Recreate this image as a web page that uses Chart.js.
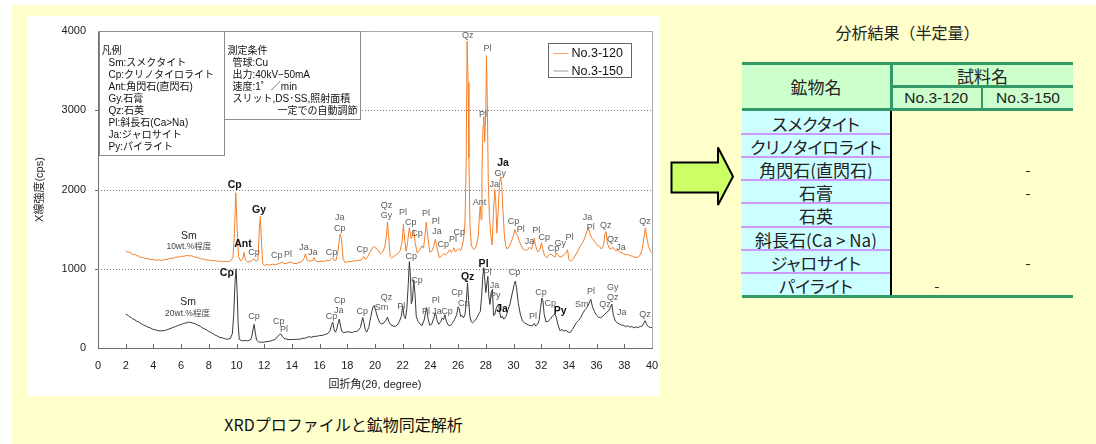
<!DOCTYPE html>
<html lang="ja">
<head>
<meta charset="utf-8">
<title>XRDプロファイルと鉱物同定解析</title>
<script src="https://cdn.jsdelivr.net/npm/chart.js@4.4.1/dist/chart.umd.min.js"></script>
<style>
  html, body { margin: 0; padding: 0; background: #fff; }
  body { width: 1096px; height: 444px; position: relative; overflow: hidden;
         font-family: "Noto Sans CJK JP", "Liberation Sans", sans-serif; color: #222; }
  #page { position: absolute; left: 12px; top: 5px; width: 1084px; height: 439px; background: #FFFFCC; }
  #panel { position: absolute; left: 27px; top: 16px; width: 633px; height: 380px; background: #fff; }
  #panel canvas { display: block; }
  #caption { position: absolute; left: 27px; top: 413px; width: 633px; text-align: center;
             font-size: 16px; line-height: 22px; color: #111; }
  #arrow { position: absolute; left: 660px; top: 140px; }
  .abs { position: absolute; }
  .cell { position: absolute; display: flex; align-items: center; justify-content: center;
          white-space: nowrap; font-feature-settings: "palt"; }
  #resTitle { position: absolute; left: 820px; width: 175px; top: 20px; text-align: center;
              font-size: 16px; line-height: 24px; color: #222; }
</style>
</head>
<body>
<div id="page"></div>
<div id="panel"><canvas id="xrd" width="633" height="380"></canvas></div>
<div id="caption">XRDプロファイルと鉱物同定解析</div>
<svg id="arrow" width="80" height="75" viewBox="660 140 80 75">
  <polygon points="671.5,162.5 718,162.5 718,147.5 733,176.5 718,205 718,192.5 671.5,192.5"
           fill="#CCFF66" stroke="#000" stroke-width="2" stroke-linejoin="miter"/>
</svg>
<div id="resTitle">分析結果（半定量）</div>
<div id="table"></div>

<script>
// ---- XRD profile, sample No.3-120 (2θ in degrees, intensity in cps) ----
const theta120 = [
  2.0,2.1,2.2,2.3,2.4,2.5,2.6,2.7,2.8,2.9,3.0,3.2,3.4,3.6,3.8,4.0,4.2,4.4,4.6,4.8,
  5.0,5.2,5.4,5.6,5.8,6.0,6.2,6.4,6.6,6.8,7.0,7.2,7.4,7.6,7.8,8.0,8.2,8.4,8.6,8.8,
  9.0,9.2,9.4,9.6,9.75,9.85,9.95,10.05,10.15,10.3,10.45,10.55,10.65,10.8,11.0,11.15,11.27,11.4,11.55,11.65,
  11.72,11.8,11.9,12.0,12.2,12.4,12.6,12.8,13.0,13.2,13.3,13.5,13.7,13.9,14.1,14.3,14.5,14.7,14.85,14.98,
  15.1,15.3,15.5,15.6,15.7,15.9,16.1,16.3,16.5,16.7,16.85,16.95,17.05,17.2,17.35,17.48,17.58,17.7,17.85,18.0,
  18.2,18.4,18.6,18.8,19.0,19.1,19.2,19.3,19.45,19.6,19.8,19.9,20.0,20.2,20.4,20.55,20.7,20.82,20.9,20.98,
  21.1,21.2,21.35,21.5,21.65,21.8,21.95,22.05,22.15,22.25,22.35,22.48,22.6,22.72,22.8,22.9,23.05,23.2,23.4,23.5,
  23.6,23.7,23.8,23.95,24.1,24.25,24.36,24.5,24.65,24.8,24.95,25.1,25.25,25.4,25.5,25.6,25.7,25.8,25.95,26.1,
  26.2,26.3,26.4,26.5,26.58,26.65,26.72,26.78,26.86,26.95,27.05,27.15,27.3,27.45,27.55,27.6,27.66,27.72,27.8,27.86,
  27.92,28.0,28.05,28.1,28.18,28.25,28.35,28.45,28.55,28.65,28.72,28.8,28.9,29.0,29.08,29.15,29.25,29.35,29.45,29.55,
  29.7,29.85,30.0,30.1,30.18,30.28,30.4,30.55,30.7,30.85,31.0,31.15,31.3,31.42,31.5,31.6,31.75,31.9,32.02,32.12,
  32.25,32.4,32.55,32.7,32.85,33.0,33.1,33.2,33.35,33.5,33.65,33.8,33.9,34.0,34.1,34.25,34.4,34.6,34.8,35.0,
  35.15,35.3,35.4,35.5,35.6,35.75,35.9,36.05,36.2,36.35,36.5,36.6,36.68,36.78,36.9,37.05,37.2,37.35,37.5,37.65,
  37.8,37.95,38.1,38.25,38.4,38.55,38.7,38.85,39.0,39.15,39.3,39.42,39.52,39.62,39.75,39.9,40.0
];
const cps120 = [
  1230,1212,1205,1214,1190,1188,1172,1182,1163,1162,1148,1142,1132,1128,1116,1118,1106,1114,1104,1117,
  1118,1132,1131,1147,1146,1158,1157,1168,1163,1162,1146,1143,1126,1122,1111,1110,1100,1103,1096,1097,
  1090,1093,1089,1102,1150,1450,1960,1500,1150,1098,1122,1205,1108,1086,1092,1112,1125,1093,1112,1500,
  1660,1350,1060,1043,1052,1046,1057,1050,1062,1073,1082,1063,1072,1086,1068,1066,1076,1088,1120,1190,
  1108,1096,1104,1140,1098,1091,1097,1093,1102,1104,1122,1140,1103,1112,1250,1440,1380,1118,1078,1087,
  1088,1097,1098,1107,1108,1132,1155,1118,1142,1200,1258,1282,1268,1242,1188,1212,1270,1400,1590,1420,
  1150,1133,1152,1173,1192,1218,1330,1560,1350,1220,1330,1520,1380,1420,1490,1330,1198,1232,1288,1262,
  1400,1590,1420,1208,1222,1290,1370,1248,1138,1162,1188,1176,1202,1240,1208,1232,1265,1213,1242,1248,
  1232,1290,1380,1600,2300,3870,3350,2400,1550,1300,1258,1242,1278,1400,1700,1790,1620,2200,2800,2920,
  2600,3000,3690,3200,2100,1700,1450,1300,1700,2000,1850,1450,1750,2100,2160,2050,1700,1400,1280,1248,
  1282,1348,1422,1495,1450,1430,1358,1292,1248,1232,1238,1272,1248,1322,1385,1288,1212,1238,1330,1248,
  1162,1138,1172,1188,1162,1148,1200,1178,1146,1156,1178,1202,1240,1118,1095,1112,1148,1212,1278,1332,
  1390,1470,1515,1460,1402,1368,1332,1298,1282,1248,1290,1440,1470,1318,1262,1248,1272,1228,1232,1214,
  1202,1188,1176,1182,1164,1162,1148,1142,1150,1172,1250,1400,1515,1400,1280,1218,1200
];

// ---- XRD profile, sample No.3-150 ----
const theta150 = [
  2.0,2.1,2.2,2.3,2.4,2.5,2.6,2.8,3.0,3.2,3.4,3.6,3.8,4.0,4.2,4.4,4.6,4.8,5.0,5.2,
  5.4,5.6,5.8,6.0,6.2,6.4,6.6,6.8,7.0,7.2,7.4,7.6,7.8,8.0,8.2,8.4,8.6,8.8,9.0,9.2,
  9.4,9.55,9.7,9.8,9.9,9.97,10.05,10.12,10.2,10.35,10.5,10.65,10.8,11.0,11.1,11.2,11.27,11.35,11.45,11.6,
  11.8,12.0,12.2,12.4,12.6,12.8,12.95,13.1,13.2,13.3,13.45,13.6,13.8,14.0,14.2,14.4,14.6,14.8,15.0,15.2,
  15.4,15.6,15.8,16.0,16.2,16.4,16.6,16.75,16.85,16.95,17.05,17.15,17.25,17.35,17.42,17.5,17.6,17.75,17.9,18.05,
  18.2,18.35,18.5,18.65,18.8,18.95,19.05,19.12,19.2,19.3,19.4,19.55,19.7,19.85,19.95,20.05,20.2,20.35,20.5,20.65,
  20.8,20.9,21.0,21.15,21.3,21.45,21.6,21.75,21.9,22.0,22.1,22.2,22.3,22.4,22.48,22.56,22.62,22.7,22.8,22.88,
  22.98,23.1,23.25,23.4,23.55,23.65,23.72,23.82,23.95,24.1,24.25,24.36,24.48,24.6,24.75,24.85,24.95,25.05,25.15,25.3,
  25.45,25.6,25.75,25.9,26.0,26.08,26.18,26.28,26.38,26.5,26.6,26.68,26.76,26.85,26.95,27.05,27.2,27.35,27.5,27.6,
  27.7,27.78,27.85,27.93,28.0,28.08,28.15,28.22,28.3,28.4,28.48,28.56,28.65,28.75,28.85,28.93,29.0,29.1,29.2,29.3,
  29.4,29.5,29.6,29.75,29.9,30.05,30.13,30.22,30.35,30.5,30.65,30.8,30.95,31.1,31.25,31.4,31.5,31.6,31.75,31.85,
  31.95,32.05,32.12,32.22,32.35,32.5,32.65,32.8,32.9,33.0,33.1,33.2,33.35,33.5,33.65,33.8,33.95,34.1,34.25,34.4,
  34.55,34.7,34.85,35.0,35.15,35.3,35.45,35.58,35.7,35.85,36.0,36.15,36.3,36.45,36.6,36.75,36.9,37.0,37.1,37.2,
  37.35,37.5,37.65,37.8,37.95,38.1,38.25,38.4,38.55,38.7,38.85,39.0,39.15,39.3,39.42,39.5,39.6,39.75,39.9,40.0
];
const cps150 = [
  430,418,407,392,382,368,362,338,322,298,282,263,252,233,227,216,217,220,232,243,
  260,270,287,296,312,318,327,316,307,288,272,248,232,208,192,168,152,133,127,113,
  112,120,180,420,850,1000,700,300,110,94,91,96,90,102,140,240,300,200,100,77,
  73,74,82,84,97,108,140,170,178,150,118,113,106,107,109,110,113,122,126,142,
  136,147,148,157,158,172,183,220,280,325,230,200,250,320,365,290,210,193,202,203,
  202,193,207,208,222,260,340,385,320,230,200,260,400,520,535,470,380,318,302,318,
  352,390,330,292,278,272,288,332,400,530,400,370,500,800,1090,900,560,600,860,700,
  400,338,302,283,352,450,510,380,288,302,380,450,350,298,332,380,360,420,340,288,
  282,318,362,420,520,500,400,410,380,420,600,820,600,400,330,318,342,378,432,460,
  650,900,1015,850,700,820,905,650,550,700,740,410,420,500,540,555,450,378,402,365,
  382,418,482,558,682,800,845,760,560,420,342,318,302,288,282,283,310,278,302,350,
  500,630,600,420,330,338,362,398,420,425,380,300,220,232,213,222,200,196,232,278,
  322,348,382,438,482,508,562,615,520,458,412,388,382,402,428,452,478,510,555,420,
  340,318,302,288,287,268,282,263,272,253,267,258,272,278,320,345,300,268,257,260
];

// ---- axis ticks ----
const xTickValues = [0,2,4,6,8,10,12,14,16,18,20,22,24,26,28,30,32,34,36,38,40];
const yTickValues = [0,1000,2000,3000,4000];
const yGridValues = [1000,2000,3000];

// ---- peak identification tags: [label, 2θ, cps] ----
const tagsPlain = [
  // No.3-120
  ['Cp',11.27,1208],['Cp',12.90,1166],['Pl',13.72,1175],['Ja',14.87,1263],['Ja',15.50,1200],
  ['Cp',16.86,1208],['Ja',17.46,1647],['Cp',17.46,1509],['Cp',19.08,1241],['Qz',20.83,1793],
  ['Gy',20.83,1668],['Pl',22.03,1709],['Cp',22.58,1584],['Cp',23.04,1446],['Pl',23.69,1697],
  ['Pl',24.38,1596],['Ja',24.48,1471],['Cp',24.92,1312],['Pl',25.64,1375],['Cp',26.09,1459],
  ['Qz',26.69,3938],['Pl',28.13,3778],['Pl',27.80,2951],['Gy',29.05,2198],['Ja',28.61,2065],
  ['Ant',27.55,1831],['Cp',30.0,1596],['Pl',30.53,1500],['Ja',31.16,1338],['Pl',31.64,1484],
  ['Cp',32.22,1396],['Cp',32.88,1258],['Gy',33.37,1313],['Pl',34.04,1396],['Ja',35.34,1647],
  ['Pl',35.58,1522],['Qz',36.66,1551],['Qz',37.17,1363],['Ja',37.77,1267],['Qz',39.5,1596],
  // No.3-150
  ['Cp',11.27,393],['Cp',13.05,330],['Pl',13.43,238],['Cp',16.86,393],['Cp',17.46,593],
  ['Ja',17.39,469],['Cp',19.08,455],['Qz',20.83,636],['Sm',20.47,510],['Pl',21.89,523],
  ['Cp',22.61,1150],['Cp',23.04,853],['Pl',23.69,455],['Pl',24.38,593],['Ja',24.48,455],
  ['Cp',25.2,455],['Cp',25.92,706],['Cp',26.40,564],['Pl',28.13,956],['Ja',28.63,789],
  ['Py',28.68,656],['Cp',30.08,956],['Pl',31.40,398],['Cp',31.98,706],['Cp',32.65,560],
  ['Sm',34.93,543],['Pl',35.6,718],['Gy',37.17,761],['Qz',37.17,636],['Qz',36.61,543],
  ['Ja',37.81,452],['Qz',39.5,426]
];
const tagsStrong = [
  ['Cp',9.87,2057],['Ant',10.47,1316],['Gy',11.63,1734],['Ja',29.24,2329],
  ['Cp',9.30,949],['Qz',26.69,899],['Pl',27.84,1053],['Ja',29.17,489],['Py',33.37,468]
];
// smectite notes: [line, 2θ, cps]
const smNotes = [
  ['Sm',6.56,1417],['10wt.%程度',6.56,1279],
  ['Sm',6.51,574],['20wt.%程度',6.46,439]
];

// ---- text boxes inside the plot ----
const keyLines = ['Sm:スメクタイト','Cp:クリノタイロライト','Ant:角閃石(直閃石)','Gy.石膏',
                  'Qz:石英','Pl:斜長石(Ca>Na)','Ja:ジャロサイト','Py:パイライト'];
const condLines = ['管球:Cu','出力:40kV−50mA','速度:1゜／min','スリット,DS･SS,照射面積'];
const condLast = '一定での自動調節';

// ---- analysis table ----
const minerals = ['スメクタイト','クリノタイロライト','角閃石(直閃石)','石膏','石英','斜長石(Ca > Na)','ジャロサイト','パイライト'];
const sampleNames = ['No.3-120','No.3-150'];
const mark120 = ['','','','','','','','-'];
const mark150 = ['','','-','-','','','-',''];

const ORANGE = '#F47F2A';
const DARK = '#383838';
const FONT = "'Liberation Sans','Noto Sans CJK JP',sans-serif";

function pts(xs, ys) { return xs.map((x, i) => ({ x: x, y: ys[i] })); }

const framePlugin = {
  id: 'frame',
  beforeDatasetsDraw(chart) {
    const { ctx, chartArea: a, scales: { x, y } } = chart;
    ctx.save();
    // dotted grid
    ctx.strokeStyle = '#7a7a7a';
    ctx.lineWidth = 1;
    ctx.setLineDash([1, 2]);
    yGridValues.forEach(v => {
      const py = Math.round(y.getPixelForValue(v)) + 0.5;
      ctx.beginPath(); ctx.moveTo(a.left, py); ctx.lineTo(a.right, py); ctx.stroke();
    });
    ctx.setLineDash([]);
    // top and right frame
    ctx.strokeStyle = '#a8a8a8';
    ctx.beginPath();
    ctx.moveTo(a.left, a.top + 0.5); ctx.lineTo(a.right + 0.5, a.top + 0.5); ctx.lineTo(a.right + 0.5, a.bottom);
    ctx.stroke();
    // tick marks
    ctx.strokeStyle = '#666';
    xTickValues.slice(1, -1).forEach(v => {
      const px = Math.round(x.getPixelForValue(v)) + 0.5;
      ctx.beginPath(); ctx.moveTo(px, a.bottom); ctx.lineTo(px, a.bottom - 4); ctx.stroke();
    });
    yTickValues.slice(1, -1).forEach(v => {
      const py = Math.round(y.getPixelForValue(v)) + 0.5;
      ctx.beginPath(); ctx.moveTo(a.left - 3, py); ctx.lineTo(a.left, py); ctx.stroke();
    });
    ctx.restore();
  },
  afterDatasetsDraw(chart) {
    const { ctx, chartArea: a, scales: { x, y } } = chart;
    ctx.save();
    ctx.textAlign = 'center';
    ctx.textBaseline = 'middle';
    // peak tags
    ctx.fillStyle = '#5a5a5a';
    ctx.font = '9px ' + FONT;
    tagsPlain.forEach(([t, tx, ty]) => ctx.fillText(t, x.getPixelForValue(tx), y.getPixelForValue(ty)));
    ctx.fillStyle = '#111';
    ctx.font = 'bold 10.5px ' + FONT;
    tagsStrong.forEach(([t, tx, ty]) => ctx.fillText(t, x.getPixelForValue(tx), y.getPixelForValue(ty)));
    smNotes.forEach(([t, tx, ty], i) => {
      ctx.fillStyle = i % 2 === 0 ? '#222' : '#444';
      ctx.font = (i % 2 === 0 ? '10.5px ' : '8.5px ') + FONT;
      ctx.fillText(t, x.getPixelForValue(tx), y.getPixelForValue(ty));
    });

    // key box
    ctx.textAlign = 'left';
    ctx.strokeStyle = '#8c8c8c';
    ctx.lineWidth = 1;
    const k = { l: a.left + 1.5, t: a.top + 0.5, r: a.left + 126.5, b: a.top + 124.5 };
    ctx.fillStyle = '#fff';
    ctx.fillRect(k.l, k.t, k.r - k.l, k.b - k.t);
    ctx.strokeRect(k.l, k.t, k.r - k.l, k.b - k.t);
    ctx.fillStyle = '#111';
    ctx.font = '10px ' + FONT;
    ctx.fillText('凡例', k.l + 2, a.top + 20);
    keyLines.forEach((s, i) => ctx.fillText(s, k.l + 9, a.top + 32 + i * 12));

    // measurement conditions box
    const c = { l: k.r, t: a.top + 0.5, r: a.left + 262.5, b: a.top + 88.5 };
    ctx.fillStyle = '#fff';
    ctx.fillRect(c.l, c.t, c.r - c.l, c.b - c.t);
    ctx.strokeRect(c.l, c.t, c.r - c.l, c.b - c.t);
    ctx.fillStyle = '#111';
    ctx.fillText('測定条件', c.l + 3, a.top + 20);
    condLines.forEach((s, i) => ctx.fillText(s, c.l + 8, a.top + 32 + i * 12));
    ctx.textAlign = 'right';
    ctx.fillText(condLast, c.r - 3, a.top + 80);

    // series legend
    const g = { l: a.left + 450.5, t: a.top + 12.5, r: a.left + 533.5, b: a.top + 46.5 };
    ctx.fillStyle = '#fff';
    ctx.fillRect(g.l, g.t, g.r - g.l, g.b - g.t);
    ctx.strokeStyle = '#666';
    ctx.strokeRect(g.l, g.t, g.r - g.l, g.b - g.t);
    ctx.textAlign = 'left';
    ctx.font = '12.5px ' + FONT;
    const rows = [[sampleNames[0], '#FFA264'], [sampleNames[1], '#9a9a9a']];
    rows.forEach(([name, col], i) => {
      const ry = g.t + 10 + i * 17.5;
      ctx.strokeStyle = col;
      ctx.beginPath(); ctx.moveTo(g.l + 5, ry); ctx.lineTo(g.l + 20, ry); ctx.stroke();
      ctx.fillStyle = '#111';
      ctx.fillText(name, g.l + 23, ry + 0.5);
    });
    ctx.restore();
  }
};

// hidden tick marks reserve the gap between axis and labels
const hiddenTicks = (len) => ({ display: true, drawOnChartArea: false, drawTicks: true,
                                tickLength: len, tickColor: 'rgba(0,0,0,0)' });

new Chart(document.getElementById('xrd'), {
  type: 'line',
  data: {
    datasets: [
      { label: sampleNames[0], data: pts(theta120, cps120), borderColor: ORANGE, borderWidth: 1 },
      { label: sampleNames[1], data: pts(theta150, cps150), borderColor: DARK, borderWidth: 1 }
    ]
  },
  options: {
    responsive: false,
    animation: false,
    layout: { padding: { left: 0, right: 8, top: 15, bottom: 0 } },
    elements: { point: { radius: 0 }, line: { tension: 0, borderJoinStyle: 'round' } },
    plugins: { legend: { display: false }, tooltip: { enabled: false } },
    scales: {
      x: {
        type: 'linear', min: 0, max: 40,
        afterBuildTicks(s) { s.ticks = xTickValues.map(v => ({ value: v })); },
        afterFit(s) { s.height = 48; },
        ticks: { padding: 1, color: '#222', font: { family: FONT, size: 11 }, maxRotation: 0, autoSkip: false,
                 callback: v => String(v) },
        grid: hiddenTicks(10),
        border: { color: '#6e6e6e', width: 1 },
        title: { display: true, text: '回折角(2θ, degree)', color: '#222',
                 font: { family: FONT, size: 11 }, padding: { top: 0, bottom: 4 } }
      },
      y: {
        type: 'linear', min: 0, max: 4000,
        afterBuildTicks(s) { s.ticks = yTickValues.map(v => ({ value: v })); },
        afterFit(s) { s.width = 71; },
        ticks: { padding: 1, color: '#222', font: { family: FONT, size: 11 }, callback: v => String(v) },
        grid: hiddenTicks(11),
        border: { color: '#6e6e6e', width: 1 },
        title: { display: true, text: 'X線強度(cps)', color: '#222',
                 font: { family: FONT, size: 11 }, padding: { top: 6, bottom: 0 } }
      }
    }
  },
  plugins: [framePlugin]
});

// ---- analysis table (HTML) ----
(function () {
  const T = document.getElementById('table');
  const L = 742, R = 1073, C1 = 890, C2 = 981.5;
  const GREEN = '#339966';
  const add = (css, html, cls) => {
    const d = document.createElement('div');
    d.className = cls || 'abs';
    Object.assign(d.style, css);
    if (html !== undefined) d.textContent = html;
    T.appendChild(d);
    return d;
  };
  const px = v => v + 'px';
  // header
  add({ left: px(L), top: '65px', width: px(R - L), height: '43px', background: '#CCFFCC' });
  add({ left: px(L), top: '62px', width: px(R - L), height: '3px', background: GREEN });
  add({ left: px(C1), top: '65px', width: '2.5px', height: '43px', background: GREEN });
  add({ left: px(C1 + 2), top: '85px', width: px(R - C1 - 2), height: '2.5px', background: GREEN });
  add({ left: px(C2 - 1), top: '87px', width: '2.5px', height: '21px', background: GREEN });
  add({ left: px(L), top: '108px', width: px(R - L), height: '3px', background: GREEN });
  add({ left: px(L), top: '65px', width: px(C1 - L), height: '43px', fontSize: '17px', color: '#222' }, '鉱物名', 'cell');
  add({ left: px(C1 + 2), top: '65px', width: px(R - C1 - 2), height: '21px', fontSize: '17px', color: '#222' }, '試料名', 'cell');
  add({ left: px(C1 + 2), top: '87px', width: px(C2 - C1 - 3), height: '22px', fontSize: '15.5px', color: '#222',
        fontFamily: "'Liberation Sans',sans-serif" }, sampleNames[0], 'cell');
  add({ left: px(C2 + 1.5), top: '87px', width: px(R - C2 - 1.5), height: '22px', fontSize: '15.5px', color: '#222',
        fontFamily: "'Liberation Sans',sans-serif" }, sampleNames[1], 'cell');
  // body
  const top = 111, rh = 23.1;
  add({ left: px(L), top: px(top), width: px(C1 - L), height: px(rh * minerals.length), background: '#CCFFFF' });
  minerals.forEach((m, i) => {
    const y0 = top + i * rh;
    add({ left: px(L), top: px(y0 + 1), width: px(C1 - L), height: px(rh), fontSize: '17px', color: '#222' }, m, 'cell');
    add({ left: px(C1 + 2), top: px(y0 + 1), width: px(C2 - C1 - 2), height: px(rh), fontSize: '15px', color: '#222' }, mark120[i], 'cell');
    add({ left: px(C2 + 1), top: px(y0 + 1), width: px(R - C2 - 1), height: px(rh), fontSize: '15px', color: '#222' }, mark150[i], 'cell');
    if (i > 0) add({ left: '741px', top: px(y0 - 1), width: px(C1 - 741 + 2), height: '2px', background: '#CC99FF' });
  });
  add({ left: px(C1 - 0.5), top: px(top), width: '2px', height: px(rh * minerals.length), background: '#000' });
  add({ left: px(L), top: px(top + rh * minerals.length - 0.5), width: px(R - L), height: '3px', background: GREEN });
})();
</script>
</body>
</html>
